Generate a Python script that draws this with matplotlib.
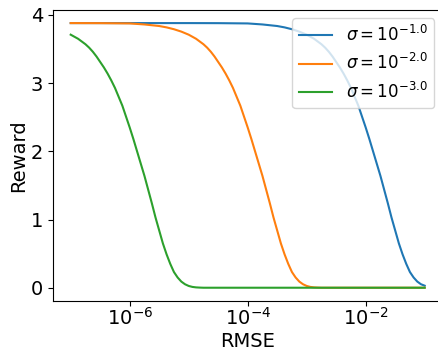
import matplotlib
matplotlib.use('Agg')
import matplotlib.pyplot as plt

# log10(RMSE) positions and reward values
green_exp = [-7.0, -6.9375, -6.875, -6.8125, -6.75, -6.6875, -6.625, -6.5625,
             -6.5, -6.4375, -6.375, -6.3125, -6.25, -6.1875, -6.125, -6.0625,
             -6.0, -5.9375, -5.875, -5.8125, -5.75, -5.6875, -5.625, -5.5625,
             -5.5, -5.4375, -5.375, -5.3125, -5.25, -5.1875, -5.125, -5.0625,
             -5.0, -4.9375, -4.875, -4.8125, -4.75,
             -4.5, -4.0, -3.0, -2.0, -1.0]
green_val = [3.71, 3.68, 3.65, 3.61, 3.57, 3.52, 3.46, 3.39,
             3.31, 3.23, 3.14, 3.04, 2.93, 2.80, 2.67, 2.51,
             2.35, 2.18, 2.00, 1.82, 1.64, 1.44, 1.24, 1.03,
             0.84, 0.65, 0.49, 0.35, 0.23, 0.15, 0.09, 0.051,
             0.026, 0.012, 0.005, 0.002, 0.0,
             0.0, 0.0, 0.0, 0.0, 0.0]

orange_exp = [-7.0, -6.5, -6.0, -5.75, -5.5, -5.375, -5.25, -5.125,
              -5.0, -4.9375, -4.875, -4.8125, -4.75, -4.6875, -4.625, -4.5625,
              -4.5, -4.4375, -4.375, -4.3125, -4.25, -4.1875, -4.125, -4.0625,
              -4.0, -3.9375, -3.875, -3.8125, -3.75, -3.6875, -3.625, -3.5625,
              -3.5, -3.4375, -3.375, -3.3125, -3.25, -3.1875, -3.125, -3.0625,
              -3.0, -2.9375, -2.875, -2.8125, -2.75,
              -2.5, -2.0, -1.0]
orange_val = [3.88, 3.879, 3.875, 3.86, 3.837, 3.817, 3.79, 3.755,
              3.71, 3.68, 3.65, 3.61, 3.57, 3.52, 3.46, 3.39,
              3.31, 3.23, 3.14, 3.04, 2.93, 2.80, 2.67, 2.51,
              2.35, 2.18, 2.00, 1.82, 1.64, 1.44, 1.24, 1.03,
              0.84, 0.65, 0.49, 0.35, 0.23, 0.15, 0.09, 0.051,
              0.026, 0.012, 0.005, 0.002, 0.0,
              0.0, 0.0, 0.0]

blue_exp = [-7.0, -6.0, -5.0, -4.5, -4.0, -3.75, -3.5, -3.375, -3.25, -3.125,
            -3.0, -2.9375, -2.875, -2.8125, -2.75, -2.6875, -2.625, -2.5625,
            -2.5, -2.4375, -2.375, -2.3125, -2.25, -2.1875, -2.125, -2.0625,
            -2.0, -1.9375, -1.875, -1.8125, -1.75, -1.6875, -1.625, -1.5625,
            -1.5, -1.4375, -1.375, -1.3125, -1.25, -1.1875, -1.125, -1.0625,
            -1.0]
blue_val = [3.88, 3.88, 3.88, 3.879, 3.875, 3.86, 3.837, 3.817, 3.79, 3.755,
            3.71, 3.68, 3.65, 3.61, 3.57, 3.52, 3.46, 3.39,
            3.31, 3.23, 3.14, 3.04, 2.93, 2.80, 2.67, 2.51,
            2.35, 2.18, 2.00, 1.82, 1.64, 1.44, 1.24, 1.03,
            0.84, 0.65, 0.49, 0.35, 0.23, 0.15, 0.09, 0.051,
            0.03]

labels = [r'$\sigma = 10^{-1.0}$', r'$\sigma = 10^{-2.0}$', r'$\sigma = 10^{-3.0}$']
xticks = [1e-6, 1e-4, 1e-2]

fig = plt.figure(figsize=(4.38, 3.52), dpi=100)
ax = fig.add_axes([0.121, 0.145, 0.889, 0.827])

series = [(blue_exp, blue_val), (orange_exp, orange_val), (green_exp, green_val)]
for (ex, val), lab in zip(series, labels):
    ax.plot([10.0 ** e for e in ex], val, label=lab)

ax.set_xscale('log')
ax.set_xticks(xticks)
ax.set_xlabel('RMSE', fontsize=14, labelpad=2)
ax.set_ylabel('Reward', fontsize=14, labelpad=2)
ax.tick_params(labelsize=14)
ax.tick_params(axis='x', pad=1)
ax.set_yticks([0, 1, 2, 3, 4])
ax.legend(loc='upper right', fontsize=12)

fig.savefig('out.png', dpi=100)
